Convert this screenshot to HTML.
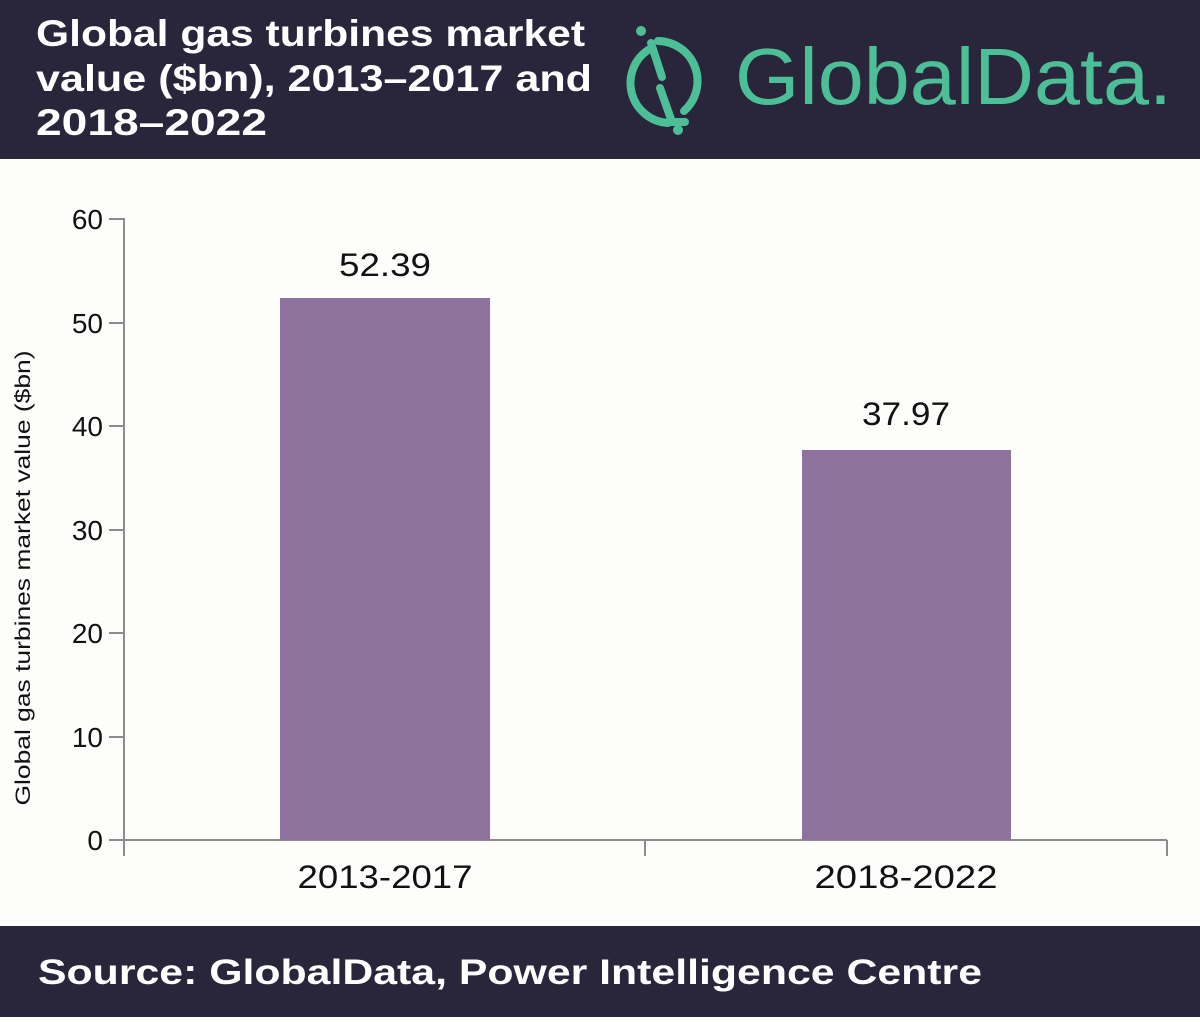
<!DOCTYPE html>
<html><head><style>
body{margin:0;width:1200px;height:1017px;background:#fdfdfc;overflow:hidden;font-family:"Liberation Sans",sans-serif}
</style></head><body>
<svg width="1200" height="1017" xmlns="http://www.w3.org/2000/svg">
<rect x="0" y="0" width="1200" height="159" fill="#29253a"/>
<g font-family="Liberation Sans" font-weight="bold" font-size="37" fill="#fff">
<text x="36" y="46" textLength="549" lengthAdjust="spacingAndGlyphs">Global gas turbines market</text>
<text x="36" y="91" textLength="556" lengthAdjust="spacingAndGlyphs">value ($bn), 2013–2017 and</text>
<text x="36" y="135" textLength="231" lengthAdjust="spacingAndGlyphs">2018–2022</text></g>
<g fill="none" stroke="#4dbf96" stroke-width="8" stroke-linecap="round">
<path d="M648 50 A40 40 0 0 0 668 123"/>
<path d="M651 43 L662 77"/>
<path d="M660 88 L672 122 L685 122"/>
<path d="M658 41 A40 40 0 0 1 684 111"/>
</g>
<circle cx="641" cy="31" r="5" fill="#4dbf96"/>
<circle cx="678" cy="130" r="5" fill="#4dbf96"/>
<text x="735" y="104" font-family="Liberation Sans" font-size="80" fill="#4dbf96" textLength="437" lengthAdjust="spacingAndGlyphs">GlobalData.</text>

<g stroke="#8c8c8c" stroke-width="2" fill="none">
<line x1="124" y1="218" x2="124" y2="856"/>
<line x1="124" y1="840" x2="1167" y2="840"/>
<line x1="109" y1="219" x2="124" y2="219"/>
<line x1="109" y1="323" x2="124" y2="323"/>
<line x1="109" y1="426" x2="124" y2="426"/>
<line x1="109" y1="530" x2="124" y2="530"/>
<line x1="109" y1="633" x2="124" y2="633"/>
<line x1="109" y1="737" x2="124" y2="737"/>
<line x1="109" y1="840" x2="124" y2="840"/>
<line x1="645" y1="840" x2="645" y2="856"/>
<line x1="1167" y1="840" x2="1167" y2="856"/>
</g>
<g font-family="Liberation Sans" font-size="28" fill="#111" text-anchor="end">
<text x="103" y="229">60</text><text x="103" y="333">50</text><text x="103" y="436">40</text>
<text x="103" y="540">30</text><text x="103" y="643">20</text><text x="103" y="747">10</text><text x="103" y="850">0</text>
</g>
<text transform="translate(30,578) rotate(-90)" text-anchor="middle" font-family="Liberation Sans" font-size="21" fill="#111" textLength="455" lengthAdjust="spacingAndGlyphs">Global gas turbines market value ($bn)</text>
<rect x="280" y="298" width="210" height="542" fill="#8d739e"/>
<rect x="802" y="450" width="209" height="390" fill="#8d739e"/>
<g font-family="Liberation Sans" font-size="32" fill="#111" text-anchor="middle">
<text x="385" y="276" textLength="92" lengthAdjust="spacingAndGlyphs">52.39</text><text x="906" y="425" textLength="88" lengthAdjust="spacingAndGlyphs">37.97</text>
<text x="385" y="888" textLength="175" lengthAdjust="spacingAndGlyphs">2013-2017</text><text x="906" y="888" textLength="183" lengthAdjust="spacingAndGlyphs">2018-2022</text>
</g>
<rect x="0" y="926" width="1200" height="91" fill="#29253a"/>
<text x="38" y="984" font-family="Liberation Sans" font-weight="bold" font-size="35" fill="#fff" textLength="944" lengthAdjust="spacingAndGlyphs">Source: GlobalData, Power Intelligence Centre</text>
</svg>
</body></html>
